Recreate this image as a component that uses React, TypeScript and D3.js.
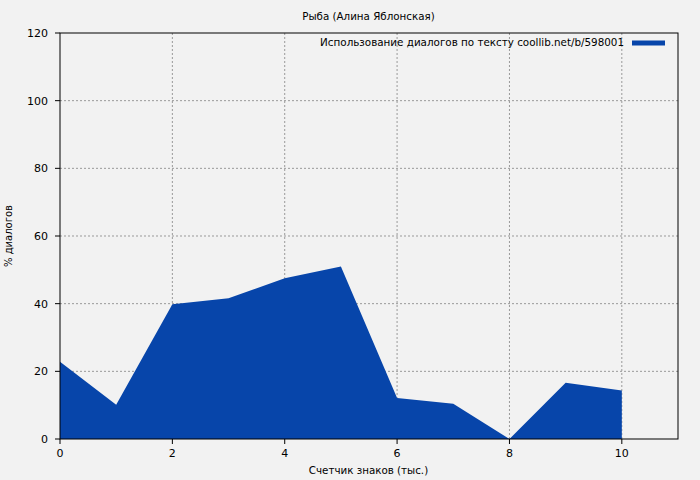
import React from "react";
import * as d3 from "d3";

const xValues = [0, 1, 2, 3, 4, 5, 6, 7, 8, 9, 10];
const yValues = [22.8, 10.1, 39.8, 41.6, 47.5, 51.0, 12.1, 10.4, 0, 16.6, 14.3];
const xTicks = [0, 2, 4, 6, 8, 10];
const yTicks = [0, 20, 40, 60, 80, 100, 120];
const title = "Рыба (Алина Яблонская)";
const xLabel = "Счетчик знаков (тыс.)";
const yLabel = "% диалогов";
const legendLabel = "Использование диалогов по тексту coollib.net/b/598001";

const W = 700, H = 480;
const M = { left: 60, right: 678, top: 33, bottom: 439 };
const FILL = "#0745aa";
const FONT = "DejaVu Sans, sans-serif";

export default function App() {
  const x = d3.scaleLinear().domain([0, 11]).range([M.left, M.right]);
  const y = d3.scaleLinear().domain([0, 120]).range([M.bottom, M.top]);
  const data = xValues.map((v, i) => [v, yValues[i]] as [number, number]);
  const area = d3.area<[number, number]>().x(d => x(d[0])).y0(y(0)).y1(d => y(d[1]))(data) || "";

  return (
    <svg width={W} height={H} style={{ position: "absolute", left: 0, top: 0, background: "#f2f2f2" }} fontFamily={FONT}>
      <rect x={0} y={0} width={W} height={H} fill="#f2f2f2" />
      {xTicks.filter(t => t > 0).map(t => (
        <line key={"gx" + t} x1={x(t)} x2={x(t)} y1={M.top} y2={M.bottom} stroke="#999" strokeDasharray="2,2" strokeWidth={1} />
      ))}
      {yTicks.filter(t => t > 0 && t < 120).map(t => (
        <line key={"gy" + t} x1={M.left} x2={M.right} y1={y(t)} y2={y(t)} stroke="#999" strokeDasharray="2,2" strokeWidth={1} />
      ))}
      <path d={area} fill={FILL} />
      <rect x={M.left} y={M.top} width={M.right - M.left} height={M.bottom - M.top} fill="none" stroke="#000" strokeWidth={1} />
      {yTicks.map(t => (
        <g key={"ty" + t}>
          <line x1={M.left - 5} x2={M.left} y1={y(t)} y2={y(t)} stroke="#000" />
          <text x={M.left - 12} y={y(t)} dy="0.35em" textAnchor="end" fontSize={11}>{t}</text>
        </g>
      ))}
      {xTicks.map(t => (
        <g key={"tx" + t}>
          <line x1={x(t)} x2={x(t)} y1={M.bottom} y2={M.bottom + 5} stroke="#000" />
          <text x={x(t)} y={M.bottom + 18} textAnchor="middle" fontSize={11}>{t}</text>
        </g>
      ))}
      <text x={368.5} y={20} textAnchor="middle" fontSize={10.3}>{title}</text>
      <text x={368.5} y={474} textAnchor="middle" fontSize={10.3}>{xLabel}</text>
      <text transform={`translate(12,236) rotate(-90)`} textAnchor="middle" fontSize={10}>{yLabel}</text>
      <text x={624} y={46} textAnchor="end" fontSize={10.35}>{legendLabel}</text>
      <line x1={632} x2={665} y1={43} y2={43} stroke={FILL} strokeWidth={5} />
    </svg>
  );
}
